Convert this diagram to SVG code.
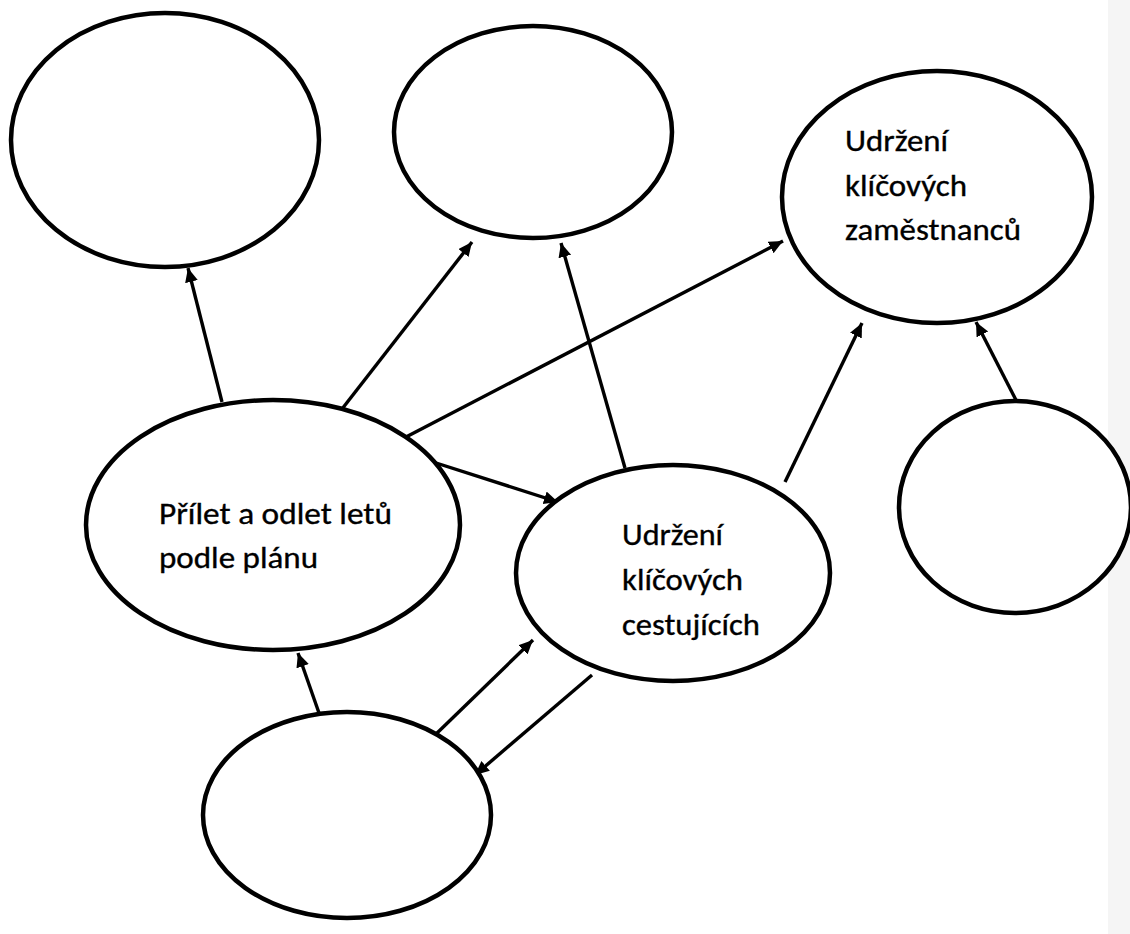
<svg xmlns="http://www.w3.org/2000/svg" width="1130" height="934" viewBox="0 0 1130 934">
<defs>
<marker id="ah" markerUnits="userSpaceOnUse" markerWidth="16" markerHeight="14" refX="14" refY="6.5" orient="auto">
<path d="M0,0 L14,6.5 L0,13 Z" fill="#000"/>
</marker>
<style>
.n{fill:#fff;stroke:#000;stroke-width:4.5}
.c{stroke:#000;stroke-width:3.4;fill:none;marker-end:url(#ah)}
.t{font-family:Carlito,Calibri,Lato,"Open Sans",sans-serif;font-size:31px;fill:#000;stroke:#000;stroke-width:0.35}
</style>
</defs>
<rect width="1130" height="934" fill="#fff"/>
<rect x="1108" y="0" width="22" height="934" fill="#f5f5f5"/>
<g id="connectors">
<line class="c" x1="222" y1="402" x2="188" y2="268"/>
<line class="c" x1="342" y1="409" x2="472" y2="242"/>
<line class="c" x1="406" y1="437" x2="783" y2="241"/>
<line class="c" x1="625" y1="468" x2="561" y2="243"/>
<line class="c" x1="433" y1="462" x2="558" y2="502"/>
<line class="c" x1="785" y1="482" x2="862" y2="323"/>
<line class="c" x1="1017" y1="402" x2="976" y2="322"/>
<line class="c" x1="319" y1="713" x2="298" y2="653"/>
<line class="c" x1="435" y1="735" x2="533" y2="640"/>
<line class="c" x1="592" y1="675" x2="475" y2="775"/>
</g>
<g id="node-top-left"><ellipse class="n" cx="165" cy="140" rx="154" ry="127"/></g>
<g id="node-top-middle"><ellipse class="n" cx="533" cy="132" rx="139" ry="106"/></g>
<g id="node-zamestnanci"><ellipse class="n" cx="937" cy="197" rx="155" ry="126"/>
<text class="t" x="845" y="151" textLength="103" lengthAdjust="spacingAndGlyphs">Udržení</text>
<text class="t" x="845" y="196" textLength="122" lengthAdjust="spacingAndGlyphs">klíčových</text>
<text class="t" x="845" y="240" textLength="176" lengthAdjust="spacingAndGlyphs">zaměstnanců</text>
</g>
<g id="node-right"><ellipse class="n" cx="1015" cy="507" rx="116" ry="106"/></g>
<g id="node-prilet"><ellipse class="n" cx="273" cy="525" rx="187" ry="125"/>
<text class="t" x="159" y="524" textLength="233" lengthAdjust="spacingAndGlyphs">Přílet a odlet letů</text>
<text class="t" x="159" y="568" textLength="159" lengthAdjust="spacingAndGlyphs">podle plánu</text>
</g>
<g id="node-cestujici"><ellipse class="n" cx="673" cy="573" rx="157" ry="108"/>
<text class="t" x="622" y="545" textLength="101" lengthAdjust="spacingAndGlyphs">Udržení</text>
<text class="t" x="622" y="590" textLength="121" lengthAdjust="spacingAndGlyphs">klíčových</text>
<text class="t" x="622" y="635" textLength="138" lengthAdjust="spacingAndGlyphs">cestujících</text>
</g>
<g id="node-bottom"><ellipse class="n" cx="347" cy="815" rx="144" ry="103"/></g>
</svg>
